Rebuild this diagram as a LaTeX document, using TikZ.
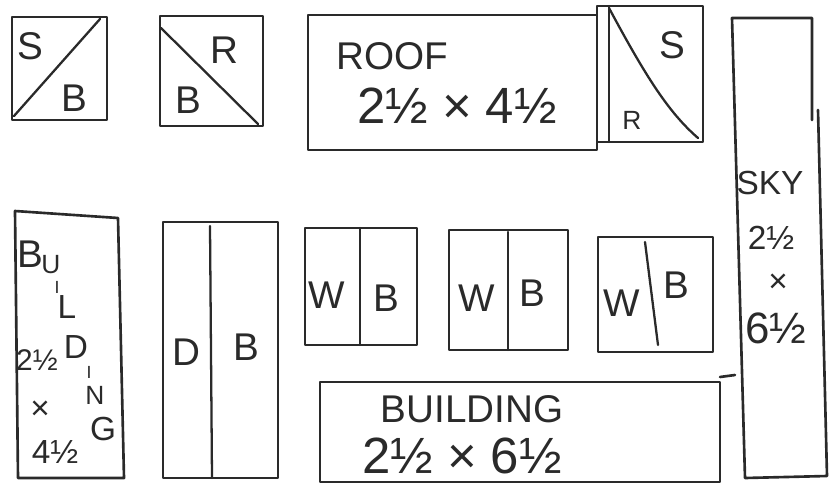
\documentclass[tikz,border=0pt]{standalone}
\usepackage{fontspec}
\setmainfont{Liberation Sans}
\usepackage{tikz}
\usetikzlibrary{positioning}
\definecolor{pencil}{HTML}{2A2A2A}

\begin{document}
\begin{tikzpicture}[
    x=0.02cm, y=-0.02cm,
    piece/.style={draw=pencil, line width=1.5pt, line cap=round, line join=round},
    seam/.style={draw=pencil, line width=1.3pt, line cap=round},
    lbl/.style={text=pencil, inner sep=0pt, font=\fontsize{22}{22}\selectfont},
    lblbig/.style={lbl, font=\fontsize{29}{29}\selectfont},
    lblmid/.style={lbl, font=\fontsize{19}{19}\selectfont},
    lblsmall/.style={lbl, font=\fontsize{15}{15}\selectfont},
    lbltiny/.style={lbl, font=\fontsize{10}{10}\selectfont}
  ]
  \useasboundingbox (0,0) rectangle (835,487);
  %% Top row: half-square blocks
  \draw[piece] (12,17) rectangle (107,120);
  \draw[seam] (14,116) -- (100,19);
  \node[lbl] (sbS) at (30,46) {S};
  \node[lbl] (sbB) at (74,98) {B};
  \draw[piece] (160,16) rectangle (263,126);
  \draw[seam] (161,28) -- (258,124);
  \node[lbl] (brR) at (224,50) {R};
  \node[lbl] (brB) at (188,100) {B};
  %% Roof strip and its corner
  \draw[piece] (308,15) rectangle (597,150);
  \node[lbl] (roof) at (392,56) {ROOF};
  \node[lblbig] (roofsz) at (457,106) {2½ × 4½};
  \draw[piece] (597,6) rectangle (703,142);
  \draw[seam] (609,6) -- (609,142);
  \draw[seam] (609,8) .. controls (645,75) and (668,112) .. (698,138);
  \node[lbl] (rsS) at (672,45) {S};
  \node[lblsmall] (rsR) at (632,120) {R};
  %% Sky column (right side)
  \draw[piece] (812,120) -- (812,18) -- (732,18) -- (745,478) -- (827,476) -- (818,110);
  \node[lblmid] (sky) at (770,183) {SKY};
  \node[lblmid] (skyw) at (771,238) {2½};
  \node[lblmid] (skyx) at (778,283) {×};
  \node[lbl,font=\fontsize{25}{25}\selectfont] (skyh) at (776,328) {6½};
  %% Bottom row: side building strip
  \draw[piece] (15,211) -- (118,218) -- (124,478) -- (18,478) -- cycle;
  \node[lbl] (bsB) at (30,254) {B};
  \node[lblsmall] (bsU) at (51,265) {U};
  \node[lbltiny] (bsI) at (57,287) {I};
  \node[lblmid] (bsL) at (67,307) {L};
  \node[lblmid] (bsD) at (76,347) {D};
  \node[lbltiny] (bsJ) at (89,372) {I};
  \node[lblsmall] (bsN) at (95,395) {N};
  \node[lblmid] (bsG) at (103,429) {G};
  \node[lbl,font=\fontsize{17}{17}\selectfont] (bsw) at (37,360) {2½};
  \node[lblmid] (bsx) at (40,410) {×};
  \node[lblmid] (bsh) at (55,452) {4½};
  %% Door strip
  \draw[piece] (163,222) rectangle (278,478);
  \draw[seam] (210,226) -- (212,478);
  \node[lbl] (dbD) at (186,352) {D};
  \node[lbl] (dbB) at (246,347) {B};
  %% Window blocks
  \draw[piece] (305,228) rectangle (417,345);
  \draw[seam] (360,228) -- (360,345);
  \node[lbl] (wb1W) at (327,295) {W};
  \node[lbl] (wb1B) at (386,298) {B};
  \draw[piece] (449,230) rectangle (568,350);
  \draw[seam] (508,232) -- (508,350);
  \node[lbl] (wb2W) at (477,298) {W};
  \node[lbl] (wb2B) at (532,293) {B};
  \draw[piece] (598,237) rectangle (713,352);
  \draw[seam] (645,242) -- (658,345);
  \node[lbl] (wb3W) at (622,303) {W};
  \node[lbl] (wb3B) at (676,285) {B};
  %% Building strip
  \draw[piece] (320,382) rectangle (720,482);
  \draw[piece] (720,377) -- (735,375);
  \node[lbl] (bldg) at (472,409) {BUILDING};
  \node[lblbig] (bldgsz) at (462,456) {2½ × 6½};
\end{tikzpicture}
\end{document}
